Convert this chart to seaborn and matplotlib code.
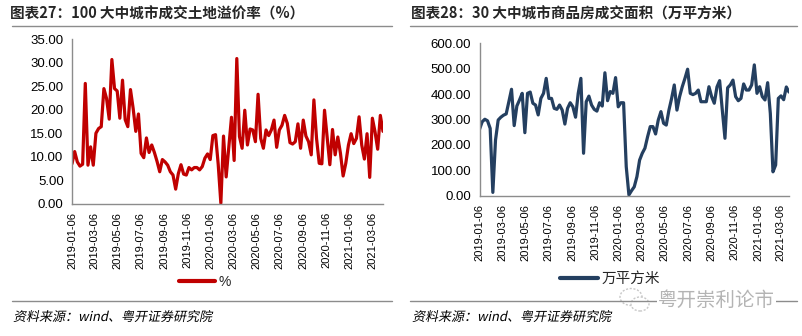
import numpy as np
import pandas as pd
import matplotlib
matplotlib.use("Agg")
import matplotlib.pyplot as plt
import matplotlib.dates as mdates
from matplotlib.lines import Line2D
from matplotlib.textpath import TextPath
from matplotlib.font_manager import FontProperties
from matplotlib.patches import PathPatch, Ellipse
from matplotlib.transforms import Affine2D, IdentityTransform
import seaborn as sns

# 100 大中城市成交土地溢价率（%），周度
premium_rate = [
    8.5, 11.1, 8.9, 8.0, 8.4, 25.6, 8.2, 12.1, 8.2, 15.0,
    16.0, 16.4, 24.5, 22.4, 18.0, 30.7, 24.5, 24.0, 18.2, 26.3,
    17.9, 16.4, 24.3, 20.3, 15.4, 19.1, 10.7, 9.8, 14.0, 10.9,
    12.5, 10.9, 9.0, 6.8, 9.4, 8.9, 8.2, 6.8, 6.1, 3.1,
    6.4, 8.3, 6.3, 6.1, 7.7, 7.2, 7.7, 7.7, 7.2, 7.9,
    9.7, 10.6, 9.4, 14.5, 14.7, 8.4, 0.1, 14.4, 5.7, 12.1,
    18.4, 9.2, 30.9, 14.3, 11.8, 19.9, 12.5, 15.9, 15.7, 13.2,
    23.3, 13.9, 11.8, 15.7, 14.5, 15.7, 17.8, 12.0, 15.7, 16.7,
    18.8, 17.1, 13.0, 12.7, 13.2, 17.0, 11.8, 17.8, 14.4, 13.2,
    10.4, 22.1, 13.9, 8.6, 8.5, 19.9, 14.1, 8.3, 15.8, 10.4,
    14.2, 10.7, 5.9, 8.6, 12.5, 14.9, 12.8, 13.9, 18.5, 12.5,
    9.5, 14.9, 5.6, 18.2, 15.3, 11.6, 18.8, 15.4,
]

# 30 大中城市商品房成交面积（万平方米），周度
deal_area = [
    261, 291, 301, 295, 265, 13, 219, 298, 309, 317,
    322, 370, 419, 276, 353, 377, 403, 248, 403, 408,
    364, 357, 318, 383, 403, 462, 383, 383, 344, 340,
    357, 337, 282, 344, 366, 350, 309, 403, 462, 167,
    370, 392, 357, 340, 333, 366, 353, 484, 374, 410,
    403, 465, 350, 366, 366, 114, 3, 20, 35, 75,
    140, 167, 187, 232, 272, 272, 243, 298, 331, 285,
    278, 337, 383, 436, 337, 390, 429, 462, 498, 403,
    398, 403, 416, 370, 370, 370, 429, 390, 364, 428,
    453, 337, 226, 425, 436, 455, 390, 374, 383, 440,
    416, 416, 436, 515, 403, 429, 390, 377, 445, 324,
    94, 121, 383, 393, 378, 428, 408,
]

start_date = "2019-01-06"
left_title = "图表27：100 大中城市成交土地溢价率（%）"
right_title = "图表28：30 大中城市商品房成交面积（万平方米）"
left_label = "%"
right_label = "万平方米"
source_text = "资料来源：wind、粤开证券研究院"
brand_text = "粤开崇利论市"

sns.set_theme(style="white")
plt.rcParams["font.family"] = ["Liberation Sans", "Noto Sans CJK SC", "DejaVu Sans"]
cjk = ["Noto Sans CJK SC", "DejaVu Sans"]

df_left = pd.DataFrame({
    "date": pd.date_range(start_date, periods=len(premium_rate), freq="7D"),
    "value": premium_rate,
    "series": left_label,
})
df_right = pd.DataFrame({
    "date": pd.date_range(start_date, periods=len(deal_area), freq="7D"),
    "value": deal_area,
    "series": right_label,
})

W, H = 803, 336
fig = plt.figure(figsize=(W / 100, H / 100), dpi=100)
fig.patch.set_facecolor("white")


def frac_box(x0, y0, x1, y1):
    return [x0 / W, 1 - y1 / H, (x1 - x0) / W, (y1 - y0) / H]


ax1 = fig.add_axes(frac_box(72, 39.3, 383, 203.7))
ax2 = fig.add_axes(frac_box(479.5, 43.3, 789, 195.7))

red = "#C00000"
navy = "#243F60"
gray = "#8C8C8C"

sns.lineplot(data=df_left, x="date", y="value", color=red, linewidth=2.3,
             ax=ax1, legend=False)
sns.lineplot(data=df_right, x="date", y="value", color=navy, linewidth=2.3,
             ax=ax2, legend=False)

for ax, df, ymax, step in [(ax1, df_left, 35, 5), (ax2, df_right, 600, 100)]:
    ax.set_xlim(df["date"].iloc[0], df["date"].iloc[-1])
    ax.set_ylim(0, ymax)
    ax.set_yticks(np.arange(0, ymax + step / 2, step))
    ax.yaxis.set_major_formatter(matplotlib.ticker.FormatStrFormatter("%.2f"))
    ax.xaxis.set_major_locator(mdates.MonthLocator(bymonth=[1, 3, 5, 7, 9, 11], bymonthday=6))
    ax.xaxis.set_major_formatter(mdates.DateFormatter("%Y-%m-%d"))
    ax.set_xlabel("")
    ax.set_ylabel("")
    for s in ["top", "right"]:
        ax.spines[s].set_visible(False)
    for s in ["left", "bottom"]:
        ax.spines[s].set_color(gray)
        ax.spines[s].set_linewidth(1.0)
    ax.tick_params(axis="both", which="major", direction="out", length=4,
                   width=1, color=gray, pad=2)
    ax.tick_params(axis="y", labelsize=9.5, labelcolor="#000000")
    ax.tick_params(axis="x", labelsize=8, labelcolor="#000000", labelrotation=90)
    ax.grid(False)
    ax.set_facecolor("white")

# legends
ax1.legend(handles=[Line2D([0], [0], color=red, lw=3)], labels=[left_label],
           loc="center", bbox_to_anchor=(205 / W, 1 - 282 / H),
           bbox_transform=fig.transFigure, frameon=False, fontsize=10,
           handlelength=2.6, handletextpad=0.2)
ax2.legend(handles=[Line2D([0], [0], color=navy, lw=3)], labels=[right_label],
           loc="center", bbox_to_anchor=(610 / W, 1 - 279 / H),
           bbox_transform=fig.transFigure, frameon=False,
           handlelength=2.6, handletextpad=0.3, prop={"family": cjk, "size": 10.5})

# titles and rules
fig.text(10 / W, 1 - 14 / H, left_title, family=cjk, fontsize=10.5,
         fontweight="bold", va="center", ha="left")
fig.text(411 / W, 1 - 14 / H, right_title, family=cjk, fontsize=10.5,
         fontweight="bold", va="center", ha="left")
for x0, x1 in [(12, 392), (410, 797)]:
    fig.add_artist(Line2D([x0 / W, x1 / W], [1 - 25.5 / H, 1 - 25.5 / H],
                          color=gray, lw=1.0))
    fig.add_artist(Line2D([x0 / W, x1 / W], [1 - 300.5 / H, 1 - 300.5 / H],
                          color=gray, lw=1.0))

# slanted source notes drawn as sheared text outlines (pixel coordinates)
src_prop = FontProperties(family="Noto Sans CJK SC")
src_path = TextPath((0, 0), source_text, size=13.0, prop=src_prop)
for x0 in (13, 412):
    tr = Affine2D().skew_deg(12, 0).translate(x0, H - 321) + IdentityTransform()
    fig.add_artist(PathPatch(src_path, transform=tr, facecolor="#000000",
                             edgecolor="none", lw=0))

# brand mark: chat-bubble outlines and name
fig.add_artist(Ellipse((631, H - 297), 22, 17, transform=IdentityTransform(),
                       facecolor="white", edgecolor="#C8C8C8", lw=1.0, ls=(0, (1.5, 1.2))))
fig.add_artist(Ellipse((640, H - 304), 18, 14, transform=IdentityTransform(),
                       facecolor="white", edgecolor="#C8C8C8", lw=1.0, ls=(0, (1.5, 1.2))))
fig.text(775 / W, 1 - 300 / H, brand_text, family=cjk, fontsize=14,
         color="#B4B4B4", va="center", ha="right",
         bbox=dict(facecolor="white", edgecolor="none", pad=1))

fig.savefig("out.png", dpi=100, facecolor="white")
